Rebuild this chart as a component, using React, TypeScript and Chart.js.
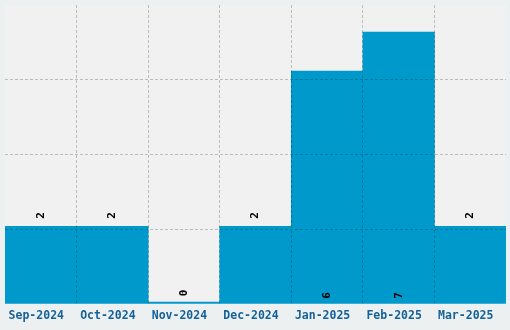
import React, { useEffect, useRef } from "react";
import { Chart, registerables } from "chart.js";

Chart.register(...registerables);

const categories = ["Sep-2024", "Oct-2024", "Nov-2024", "Dec-2024", "Jan-2025", "Feb-2025", "Mar-2025"];
const values = [2, 2, 0, 2, 6, 7, 2];
const yMax = 7.7;

const BAR = "#0099cc";
const OUTER_BG = "#edf0f1";
const AREA_BG = "#f1f1f1";
const GRID = "rgba(0,0,0,0.22)";
const TICK_COLOR = "#15629a";
const MONO = "'DejaVu Sans Mono', 'Liberation Mono', monospace";

const areaBg = {
  id: "areaBg",
  beforeDraw(chart: any) {
    const { ctx, chartArea } = chart;
    ctx.save();
    ctx.fillStyle = AREA_BG;
    ctx.fillRect(chartArea.left, chartArea.top, chartArea.right - chartArea.left, chartArea.bottom - chartArea.top);
    ctx.restore();
  },
};

const valueLabels = {
  id: "valueLabels",
  afterDraw(chart: any) {
    const { ctx } = chart;
    const meta = chart.getDatasetMeta(0);
    const yScale = chart.scales.y;
    const base = yScale.getPixelForValue(0);
    ctx.save();
    ctx.fillStyle = "#000";
    ctx.font = "bold 11px " + MONO;
    ctx.textAlign = "center";
    ctx.textBaseline = "middle";
    meta.data.forEach((bar: any, i: number) => {
      const v = values[i];
      const top = yScale.getPixelForValue(v);
      const h = base - top;
      const cy = h > 120 ? base - 8.5 : top - 11;
      ctx.save();
      ctx.translate(bar.x, cy);
      ctx.rotate(-Math.PI / 2);
      ctx.fillText(String(v), 0, 0);
      ctx.restore();
    });
    ctx.restore();
  },
};

const hideEdge = (c: any, last: number) =>
  c.type !== "tick" || c.index === 0 || c.index === last ? "rgba(0,0,0,0)" : GRID;

export default function App() {
  const ref = useRef<HTMLCanvasElement>(null);
  useEffect(() => {
    document.body.style.margin = "0";
    const chart = new Chart(ref.current!, {
      type: "bar",
      data: {
        labels: categories,
        datasets: [
          {
            data: values,
            backgroundColor: BAR,
            borderWidth: 0,
            categoryPercentage: 1,
            barPercentage: 1,
            minBarLength: 2,
          },
        ],
      },
      options: {
        animation: false,
        responsive: false,
        maintainAspectRatio: false,
        layout: { padding: { left: 5, top: 5, right: 4, bottom: 0 } },
        plugins: { legend: { display: false }, tooltip: { enabled: false } },
        scales: {
          x: {
            offset: true,
            border: { display: false, dash: [3, 2] },
            grid: {
              z: 1,
              offset: true,
              drawTicks: false,
              color: (c: any) => hideEdge(c, -1),
              lineWidth: 1,
            },
            ticks: {
              color: TICK_COLOR,
              font: { family: MONO, weight: "bold", size: 11.5 },
              padding: 5,
              labelOffset: -4.5,
              maxRotation: 0,
              autoSkip: false,
            },
            afterFit: (s: any) => {
              s.height = 26;
            },
          } as any,
          y: {
            min: 0,
            max: yMax,
            border: { display: false, dash: [3, 2] },
            grid: {
              z: 1,
              drawTicks: false,
              color: (c: any) => hideEdge(c, 4),
            },
            ticks: { display: false, count: 5 },
            afterFit: (s: any) => {
              s.width = 0;
            },
          } as any,
        },
      },
      plugins: [areaBg, valueLabels],
    });
    return () => chart.destroy();
  }, []);
  return (
    <div style={{ position: "fixed", left: 0, top: 0, width: 510, height: 330, background: OUTER_BG }}>
      <canvas ref={ref} width={510} height={330} style={{ display: "block", width: 510, height: 330 }} />
    </div>
  );
}
